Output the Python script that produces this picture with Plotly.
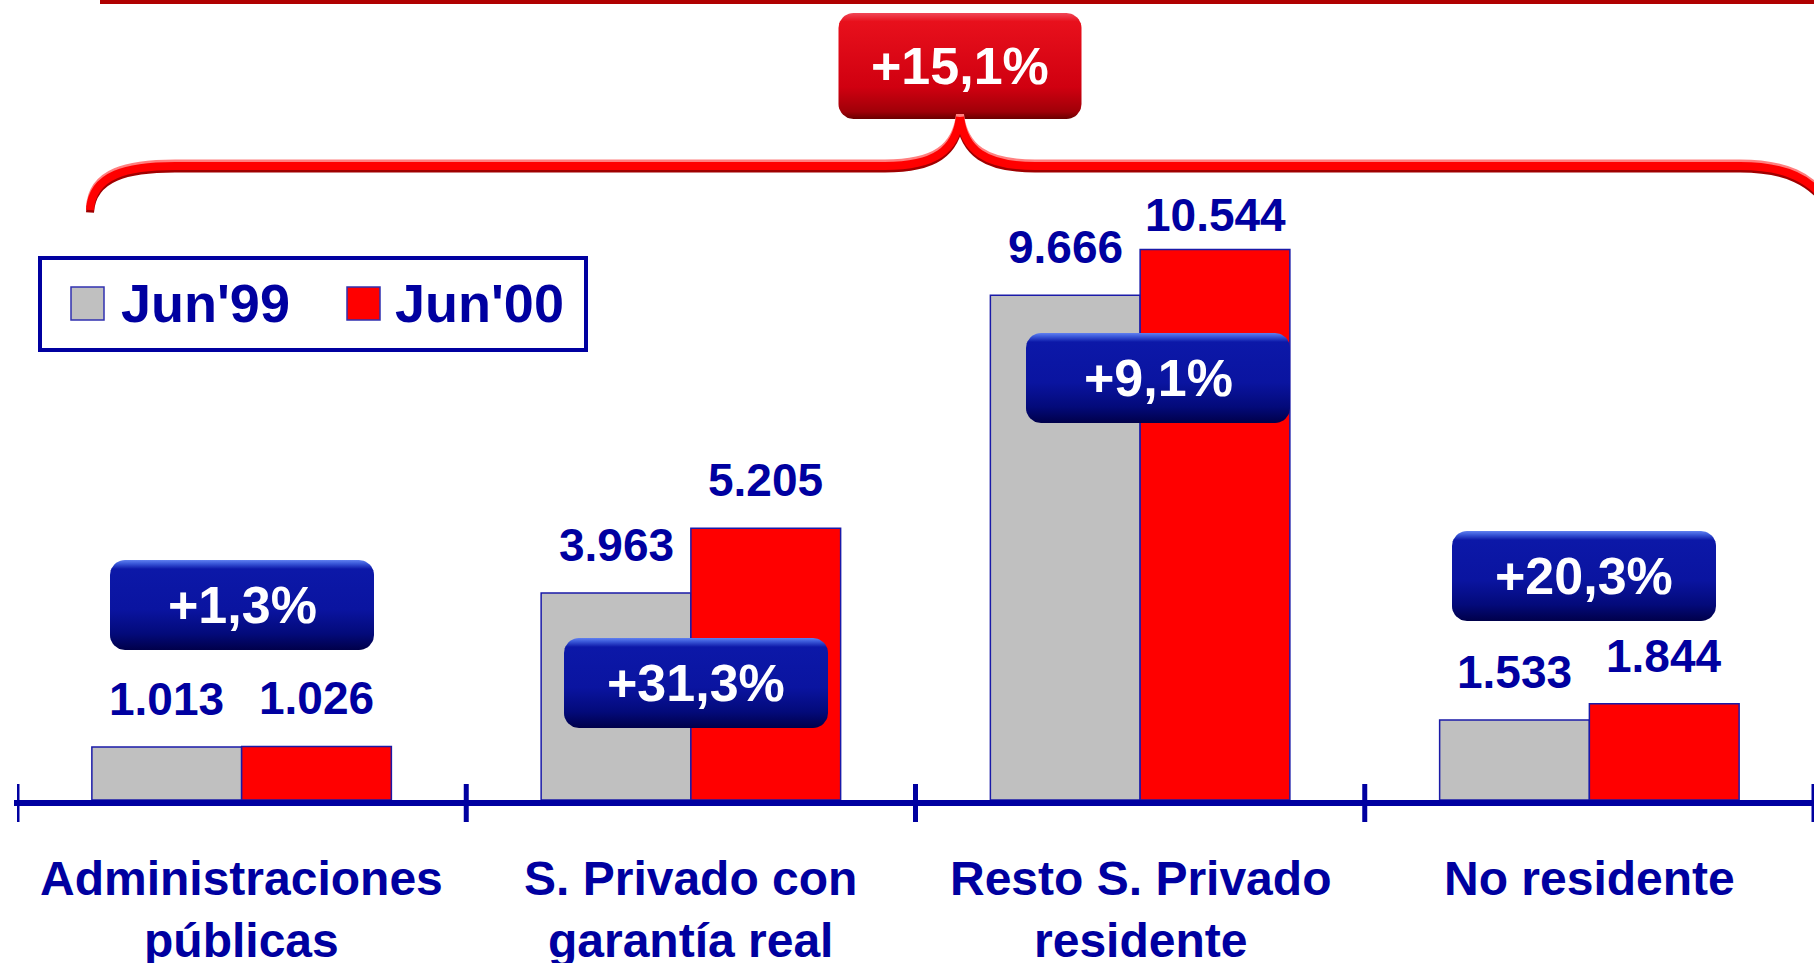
import math
import plotly.graph_objects as go

# --- data ---------------------------------------------------------------
categories = ["Administraciones<br>públicas", "S. Privado con<br>garantía real",
              "Resto S. Privado<br>residente", "No residente"]
series_names = ["Jun'99", "Jun'00"]
jun99 = [1013, 3963, 9666, 1533]
jun00 = [1026, 5205, 10544, 1844]
growth = ["+1,3%", "+31,3%", "+9,1%", "+20,3%"]
total_growth = "+15,1%"

# --- page geometry (pixels) ----------------------------------------------
W, H = 1814, 963
X0 = 17              # pixel of the left category boundary
CAT_W = (W - X0) / 4
BASE = 800           # pixel of the zero line
UNITS_PER_PX = 19.15
YMAX = BASE * UNITS_PER_PX

NAVY = "#0000A0"
FONT = "Liberation Sans, Arial, sans-serif"


def px_to_x(px):
    return (px - X0) / CAT_W - 0.5


def py_to_y(py):
    return (BASE - py) * UNITS_PER_PX


def pp_x(px):
    return px / W


def pp_y(py):
    return 1 - py / H


def rounded_box(cx, cy, w, h, r, n=10):
    """Outline of a rounded rectangle, returned in data coordinates."""
    xs, ys = [], []
    corners = [(cx + w / 2 - r, cy - h / 2 + r, -90, 0),
               (cx + w / 2 - r, cy + h / 2 - r, 0, 90),
               (cx - w / 2 + r, cy + h / 2 - r, 90, 180),
               (cx - w / 2 + r, cy - h / 2 + r, 180, 270)]
    for ccx, ccy, a0, a1 in corners:
        for k in range(n + 1):
            a = math.radians(a0 + (a1 - a0) * k / n)
            xs.append(px_to_x(ccx + r * math.cos(a)))
            ys.append(py_to_y(ccy + r * math.sin(a)))
    xs.append(xs[0])
    ys.append(ys[0])
    return xs, ys


fig = go.Figure()

xpos = list(range(len(categories)))
fig.add_trace(go.Bar(x=xpos, y=jun99, name=series_names[0],
                     marker=dict(color="#C0C0C0", line=dict(color="#1A1AA8", width=1.5))))
fig.add_trace(go.Bar(x=xpos, y=jun00, name=series_names[1],
                     marker=dict(color="#FF0000", line=dict(color="#1A1AA8", width=1.5))))

annotations = []
shapes = []

# value labels above the bars
half = (1 - 1 / 3) / 4
lift99 = [48, 48, 48, 48]
lift00 = [48, 48, 34, 48]
for i in xpos:
    for vals, off, lift in ((jun99, -half, lift99), (jun00, half, lift00)):
        annotations.append(dict(
            x=i + off, y=vals[i], xref="x", yref="y", yanchor="middle", yshift=lift[i],
            text="<b>%s</b>" % f"{vals[i]:,}".replace(",", "."), showarrow=False,
            font=dict(family=FONT, size=46, color=NAVY)))

# category labels (top-aligned so one-line labels sit on the first row)
for i, cat in enumerate(categories):
    annotations.append(dict(
        x=i, y=pp_y(850), xref="x", yref="paper", yanchor="top",
        text="<b>%s</b>" % cat, showarrow=False,
        font=dict(family=FONT, size=48, color=NAVY)))

# blue growth callouts
blue_scale = [[0, "#00004A"], [0.18, "#030A7A"], [0.45, "#0A14A0"],
              [0.9, "#0C18A8"], [0.96, "#3A58D8"], [1, "#6080F0"]]
box_cx = [242, 696, 1158, 1584]
box_cy = [605, 683, 378, 576]
for i, g in enumerate(growth):
    bx, by = rounded_box(box_cx[i], box_cy[i], 264, 90, 15)
    fig.add_trace(go.Scatter(x=bx, y=by, mode="lines", line=dict(width=0),
                             fill="toself", fillgradient=dict(type="vertical", colorscale=blue_scale),
                             hoverinfo="skip", showlegend=False))
    annotations.append(dict(
        x=px_to_x(box_cx[i]), y=py_to_y(box_cy[i]), xref="x", yref="y",
        text="<b>%s</b>" % g, showarrow=False,
        font=dict(family=FONT, size=52, color="white")))

# red total callout
red_scale = [[0, "#6A0000"], [0.07, "#A00008"], [0.3, "#D00010"],
             [0.92, "#E8101C"], [1, "#F04858"]]
rx, ry = rounded_box(960, 66, 243, 106, 15)
fig.add_trace(go.Scatter(x=rx, y=ry, mode="lines", line=dict(width=0),
                         fill="toself", fillgradient=dict(type="vertical", colorscale=red_scale),
                         hoverinfo="skip", showlegend=False))
annotations.append(dict(
    x=px_to_x(960), y=py_to_y(66), xref="x", yref="y",
    text="<b>%s</b>" % total_growth, showarrow=False,
    font=dict(family=FONT, size=52, color="white")))


# curly brace over the categories
def brace_path(dy):
    pts = lambda *p: " ".join("%.5f,%.5f" % (pp_x(a), pp_y(b + dy)) for a, b in p)
    left = "M %s C %s L %s C %s" % (
        pts((90, 210)), pts((92, 174), (128, 166), (175, 166)),
        pts((885, 166)), pts((935, 166), (956, 150), (960, 117)))
    right = "M %s C %s L %s C %s" % (
        pts((960, 117)), pts((964, 150), (985, 166), (1035, 166)),
        pts((1740, 166)), pts((1785, 166), (1812, 178), (1832, 208)))
    return left + " " + right


for dy, col, wd in ((-2.5, "#FF8080", 8), (2.5, "#A00000", 8), (0, "#FF0000", 8)):
    shapes.append(dict(type="path", xref="paper", yref="paper", path=brace_path(dy),
                       line=dict(color=col, width=wd)))

# top rule
shapes.append(dict(type="rect", xref="paper", yref="paper",
                   x0=pp_x(100), x1=1, y0=pp_y(-5), y1=pp_y(4),
                   fillcolor="#B00000", line=dict(width=0)))

# category axis with boundary ticks
shapes.append(dict(type="line", xref="paper", yref="paper",
                   x0=pp_x(14), x1=1, y0=pp_y(803), y1=pp_y(803),
                   line=dict(color=NAVY, width=6)))
for t in [-0.5, 0.5, 1.5, 2.5, 3.5]:
    shapes.append(dict(type="line", xref="x", yref="paper", x0=t, x1=t,
                       y0=pp_y(784), y1=pp_y(822), line=dict(color=NAVY, width=5)))

# legend box
shapes.append(dict(type="rect", xref="paper", yref="paper",
                   x0=pp_x(40), x1=pp_x(586), y0=pp_y(258), y1=pp_y(350),
                   line=dict(color=NAVY, width=4), fillcolor="white"))
for sx, col, tx, name in ((71, "#C0C0C0", 121, series_names[0]),
                          (347, "#FF0000", 395, series_names[1])):
    shapes.append(dict(type="rect", xref="paper", yref="paper",
                       x0=pp_x(sx), x1=pp_x(sx + 33), y0=pp_y(287), y1=pp_y(320),
                       fillcolor=col, line=dict(color="#3030B0", width=1.5)))
    annotations.append(dict(
        x=pp_x(tx - 2), y=pp_y(303), xref="paper", yref="paper",
        xanchor="left", yanchor="middle", text="<b>%s</b>" % name, showarrow=False,
        font=dict(family=FONT, size=54, color=NAVY)))

fig.update_layout(
    width=W, height=H,
    margin=dict(l=0, r=0, t=0, b=0),
    plot_bgcolor="white", paper_bgcolor="white",
    barmode="group", bargap=1 / 3, bargroupgap=0,
    showlegend=False, hovermode=False,
    xaxis=dict(domain=[X0 / W, 1], range=[-0.5, 3.5], visible=False),
    yaxis=dict(domain=[1 - BASE / H, 1], range=[0, YMAX], visible=False),
    shapes=shapes, annotations=annotations,
)

# the page body has a default margin; drop it so the figure fills the window
fig.write_html("out.html", config={"displayModeBar": False},
               post_script="document.body.style.margin='0';document.body.style.overflow='hidden';")
